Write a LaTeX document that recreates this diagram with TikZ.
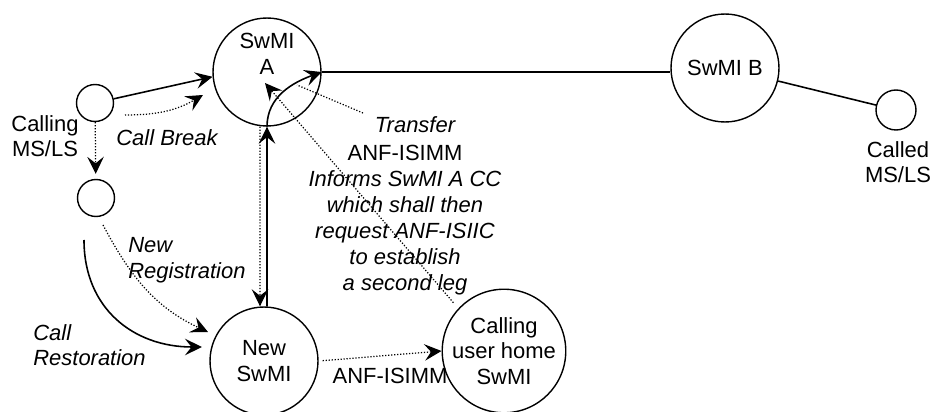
\documentclass[tikz,border=0pt]{standalone}
\usepackage{fontspec}
\setmainfont{Liberation Sans}
\usepackage{tikz}
\usetikzlibrary{arrows.meta}
\definecolor{BLACK}{HTML}{000000}

\begin{document}
\begin{tikzpicture}[x=0.02cm, y=-0.02cm,
    font=\fontsize{12.5}{14.5}\selectfont,
    bigcirc/.style={BLACK, draw, circle, line width=0.8pt, minimum size=2.16cm, inner sep=0pt},
    smallcirc/.style={BLACK, draw, circle, line width=0.8pt, minimum size=0.74cm, inner sep=0pt},
    itlabel/.style={BLACK, inner sep=0pt, font=\fontsize{12.5}{14.5}\selectfont\itshape},
    headtip/.style={-{Stealth[length=3.4mm, width=3.3mm, inset=1.3mm]}},
    flow/.style={BLACK, line width=0.9pt, headtip},
    dotflow/.style={BLACK, line width=0.7pt, densely dotted, headtip}]
    \useasboundingbox (0,0) rectangle (934,412);
    % switching nodes
    \node[bigcirc] (swmiA) at (267,72) {};
    \node[BLACK, align=center, inner sep=0pt] (swmiAtxt) at (267,54) {SwMI\\A};
    \node[bigcirc] (swmiB) at (725,68) {SwMI B};
    \node[bigcirc, align=center] (newSwMI) at (264,361) {New\\SwMI};
    \node[bigcirc, minimum size=2.22cm, align=center] (homeSwMI) at (504,351) {Calling\\user home\\SwMI};
    % terminals
    \node[smallcirc] (callingA) at (95,103) {};
    \node[smallcirc] (callingB) at (96,198) {};
    \node[smallcirc, minimum size=0.8cm] (calledMS) at (896,110) {};
    \node[BLACK, align=center, inner sep=0pt] (callingTxt) at (45,136) {Calling\\MS/LS};
    \node[BLACK, align=center, inner sep=0pt] (calledTxt) at (898,162) {Called\\MS/LS};
    % free ends
    \coordinate (breakS) at (125,115);
    \coordinate (breakE) at (203,95);
    \coordinate (regS) at (103,225);
    \coordinate (regE) at (208,332);
    \coordinate (restS) at (84,240);
    \coordinate (restE) at (202,347);
    \coordinate (transS) at (363,113);
    \coordinate (transE) at (297,85);
    \coordinate (aInner) at (265,83);
    % connections
    \draw[BLACK, line width=0.9pt] (swmiA.east) -- (swmiA.east -| swmiB.west);
    \draw[BLACK, line width=0.9pt] (swmiB) -- (calledMS);
    \draw[flow] (callingA) -- (swmiA.185);
    \draw[dotflow] (breakS) to[out=0, in=-150] (breakE);
    \draw[dotflow, shorten >=0.1cm] (callingA) -- (callingB);
    \draw[dotflow] (regS) to[out=-62, in=155] (regE);
    \draw[flow] (restS) to[out=-90, in=180, looseness=1.1] (restE);
    \draw[flow] ([xshift=0.06cm]newSwMI.north) -- (swmiA.south);
    \draw[dotflow] ([xshift=-0.14cm]swmiA.south) -- ([xshift=-0.08cm]newSwMI.north);
    \draw[flow] (swmiA.south) to[out=90, in=200] (swmiA.east);
    \draw[BLACK, line width=0.7pt, densely dotted] (transS) -- (transE);
    \draw[dotflow, shorten <=0.15cm] (homeSwMI.137) -- (aInner);
    \draw[dotflow, shorten <=0.08cm] (newSwMI.east) -- (homeSwMI.west);
    % labels
    \node[itlabel] (breakTxt) at (167,138) {Call Break};
    \node[itlabel, align=left, anchor=west] (regTxt) at (128,260) {New\\Registration};
    \node[itlabel, align=left, anchor=west] (restTxt) at (33,345) {Call\\Restoration};
    \node[itlabel] (transTxt) at (415,125) {Transfer};
    \node[BLACK, align=center, inner sep=0pt, font=\fontsize{12.5}{14.8}\selectfont] (anfTxt) at (405,220)
        {ANF-ISIMM\\\textit{Informs SwMI A CC}\\\textit{which shall then}\\\textit{request ANF-ISIIC}\\\textit{to establish}\\\textit{a second leg}};
    \node[BLACK, inner sep=0pt] (anfLbl) at (390,376) {ANF-ISIMM};
\end{tikzpicture}
\end{document}
